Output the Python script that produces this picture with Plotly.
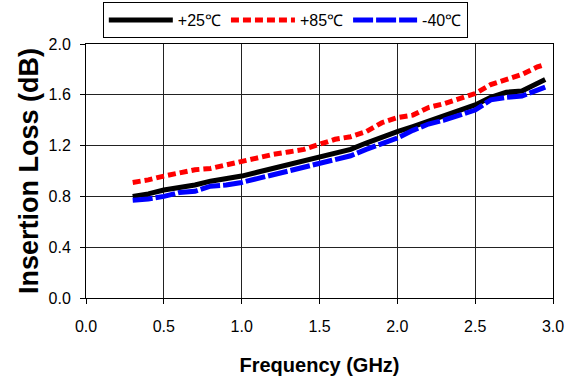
import plotly.graph_objects as go

freq = [0.3, 0.4, 0.5, 0.6, 0.7, 0.8, 0.9, 1.0, 1.1, 1.2, 1.3, 1.4, 1.5, 1.6,
        1.7, 1.8, 1.9, 2.0, 2.1, 2.2, 2.3, 2.4, 2.5, 2.6, 2.7, 2.8, 2.9, 2.95]
loss_25 = [0.80, 0.82, 0.85, 0.87, 0.89, 0.92, 0.94, 0.96, 0.99, 1.02, 1.04, 1.08, 1.11, 1.14,
           1.17, 1.22, 1.27, 1.31, 1.35, 1.39, 1.43, 1.47, 1.52, 1.58, 1.62, 1.63, 1.69, 1.72]
loss_85 = [0.91, 0.93, 0.96, 0.99, 1.01, 1.02, 1.05, 1.07, 1.10, 1.13, 1.15, 1.17, 1.21, 1.25,
           1.27, 1.31, 1.38, 1.42, 1.44, 1.50, 1.53, 1.57, 1.61, 1.68, 1.72, 1.76, 1.82, 1.84]
loss_m40 = [0.77, 0.78, 0.80, 0.83, 0.84, 0.88, 0.89, 0.91, 0.94, 0.97, 1.00, 1.03, 1.06, 1.09,
            1.12, 1.17, 1.21, 1.26, 1.32, 1.37, 1.40, 1.44, 1.48, 1.56, 1.58, 1.59, 1.64, 1.66]
series_names = ["+25℃", "+85℃", "-40℃"]

fig = go.Figure()
fig.add_trace(go.Scatter(x=freq, y=loss_25, name=series_names[0], mode="lines",
                         line=dict(color="black", width=5)))
fig.add_trace(go.Scatter(x=freq, y=loss_85, name=series_names[1], mode="lines",
                         line=dict(color="#ff0000", width=5, dash="8px,4px")))
fig.add_trace(go.Scatter(x=freq, y=loss_m40, name=series_names[2], mode="lines",
                         line=dict(color="#0000ff", width=5, dash="20px,3px")))

font_family = "Arial"
fig.update_layout(
    width=575, height=383,
    margin=dict(l=86, r=22, t=44, b=85, autoexpand=False),
    paper_bgcolor="white", plot_bgcolor="white",
    font=dict(family=font_family, color="black", size=16),
    showlegend=True,
    legend=dict(orientation="h", x=0.036, xanchor="left", y=1.165, yanchor="top",
                bordercolor="black", borderwidth=1, bgcolor="white",
                font=dict(size=16, family=font_family), itemwidth=64,
                traceorder="normal"),
    xaxis=dict(range=[0, 3.0], tickvals=[0, 0.5, 1.0, 1.5, 2.0, 2.5, 3.0], tickformat=".1f",
               showgrid=True, gridcolor="#222", gridwidth=1,
               showline=True, linecolor="black", linewidth=1, mirror=True,
               ticks="outside", ticklen=5, tickcolor="black", zeroline=False,
               tickfont=dict(size=16), ticklabelstandoff=9,
               title=dict(text="<b>Frequency (GHz)</b>", font=dict(size=20), standoff=23)),
    yaxis=dict(range=[0, 2.0], tickvals=[0, 0.4, 0.8, 1.2, 1.6, 2.0], tickformat=".1f",
               showgrid=True, gridcolor="#222", gridwidth=1,
               showline=True, linecolor="black", linewidth=1, mirror=True,
               ticks="outside", ticklen=5, tickcolor="black", zeroline=False,
               tickfont=dict(size=16), ticklabelstandoff=6,
               title=dict(text="<b>Insertion Loss (dB)</b>", font=dict(size=27), standoff=2)),
)

fig.write_html("out.html")
